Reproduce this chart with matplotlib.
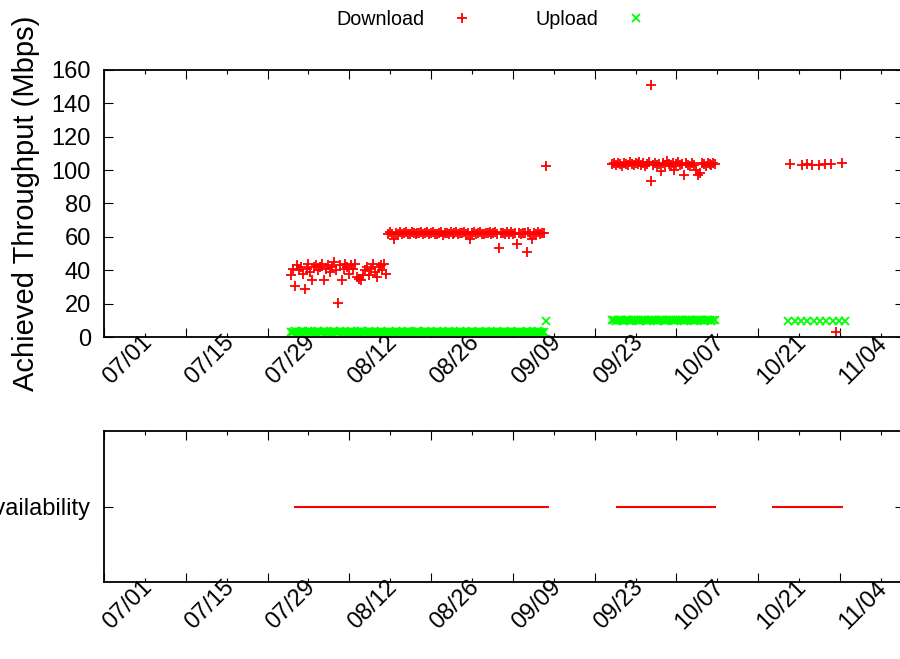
import matplotlib
matplotlib.use("Agg")
import matplotlib.pyplot as plt
import matplotlib.dates as mdates
import matplotlib.transforms as mtransforms
import pandas as pd

plt.rcParams["font.family"] = ["Liberation Sans", "DejaVu Sans"]

# speed tests run every 8 hours while the line is up
run_step = "8h"
aug_start = "2014-08-02 00:00"
mid_start = "2014-08-18 16:00"
late_start = "2014-09-26 00:00"

dl_aug = [37, 41, 30.5, 43, 40, 42, 38, 28.8, 41, 44,
          39, 34, 42, 43, 40, 42, 44, 34, 41, 43,
          39, 42, 45, 40, 20.4, 43, 34, 41, 44, 42,
          38, 43, 41, 44, 36, 35, 34, 37, 40, 42,
          37, 41, 44, 39, 36, 42, 43, 40, 44, 38]
ul_aug = [3.2, 3.0, 3.4, 3.1, 2.9, 3.3, 3.5, 3.0, 3.2, 3.4,
          3.1, 2.8, 3.3, 3.2, 3.6, 3.0, 3.1, 3.4, 2.9, 3.2,
          3.3, 3.1, 3.5, 3.0, 3.2, 3.4, 2.9, 3.1, 3.3, 3.2,
          3.0, 3.4, 3.1, 3.2, 2.9, 3.3, 3.5, 3.1, 3.0, 3.2,
          3.4, 3.1, 3.3, 2.9, 3.2, 3.0, 3.4, 3.1, 3.3, 3.2]

dl_mid = [62, 63, 61.5, 59, 62.5, 62, 63, 61.8, 62.2, 62.8,
          61.5, 62, 63.2, 62.4, 61.7, 62.6, 62.1, 63, 61.9, 62.3,
          62.7, 61.6, 62.2, 63.1, 62, 61.8, 62.5, 62.9, 61.4, 62.2,
          62.6, 62, 63, 61.7, 62.3, 62.8, 61.9, 62.4, 62.1, 63.2,
          61.6, 62.5, 59, 62.2, 62.7, 61.8, 62.4, 63, 62, 61.5,
          62.6, 62.1, 62.9, 61.7, 62.3, 62.8, 61.9, 53.1, 62.4, 62.2,
          61.6, 62.7, 62, 63.1, 61.8, 62.5, 55.7, 62.3, 61.9, 62.6,
          62.1, 50.7, 62.8, 61.7, 59, 62.4, 62, 63, 61.8, 62.5,
          62.2]
ul_mid = [3.1, 3.3, 3.0, 3.2, 3.4, 2.9, 3.1, 3.3, 3.2, 3.0,
          3.4, 3.1, 3.2, 2.9, 3.3, 3.5, 3.0, 3.2, 3.1, 3.4,
          3.0, 3.2, 3.3, 3.1, 2.9, 3.4, 3.2, 3.0, 3.3, 3.1,
          3.2, 3.5, 3.0, 3.1, 3.3, 3.2, 2.9, 3.4, 3.1, 3.2,
          3.0, 3.3, 3.1, 3.4, 3.2, 2.9, 3.1, 3.3, 3.0, 3.2,
          3.4, 3.1, 3.2, 3.0, 3.3, 3.1, 3.5, 3.2, 2.9, 3.1,
          3.3, 3.0, 3.2, 3.4, 3.1, 3.2, 3.0, 3.3, 3.1, 2.9,
          3.2, 3.4, 3.1, 3.3, 3.0, 3.2, 3.1, 3.4, 3.2, 3.0,
          3.3]

dl_late = [103.5, 104, 103, 104.5, 103.8, 102.5, 104.2, 103.6, 103.1, 104.8,
           103.4, 102.8, 104, 103.7, 105, 103.2, 104.3, 102.6, 103.9, 104.6,
           93.5, 103.3, 104.1, 102.9, 103.8, 99.6, 104.4, 103, 105.2, 103.6,
           102.4, 104, 100, 103.5, 104.7, 102.8, 103.9, 97, 104.2, 103.3,
           102.7, 104.5, 103.1, 100, 97, 98.4, 104, 103.4, 102.6, 104.3,
           103.7, 102.9, 104.1, 103.5]
ul_late = [9.9, 10.1, 9.8, 10.0, 10.2, 9.9, 9.7, 10.1, 10.0, 9.8,
           10.2, 9.9, 10.0, 10.1, 9.8, 9.9, 10.3, 10.0, 9.7, 10.1,
           9.9, 10.0, 10.2, 9.8, 10.1, 9.9, 10.0, 9.7, 10.2, 10.0,
           9.9, 10.1, 9.8, 10.0, 10.3, 9.9, 10.1, 9.8, 10.0, 9.9,
           10.2, 10.0, 9.7, 10.1, 9.9, 10.0, 10.2, 9.8, 10.1, 9.9,
           10.0, 9.8, 10.1, 10.0]

# individual runs outside the regular schedule
extra_dl_times = ["2014-09-14 17:00", "2014-10-02 14:00", "2014-10-26 10:00",
                  "2014-10-28 10:00", "2014-10-29 07:00", "2014-10-30 07:00",
                  "2014-10-31 10:00", "2014-11-01 10:00", "2014-11-02 10:00",
                  "2014-11-03 07:00", "2014-11-04 10:00"]
extra_dl = [102.5, 151, 103.5, 103.3, 103.4, 103.2, 103.3, 103.4, 103.6, 3.2, 104.4]
extra_ul_times = ["2014-09-14 17:00", "2014-10-26 04:00", "2014-10-27 06:00",
                  "2014-10-28 08:00", "2014-10-29 10:00", "2014-10-30 12:00",
                  "2014-10-31 14:00", "2014-11-01 16:00", "2014-11-02 18:00",
                  "2014-11-03 20:00", "2014-11-04 22:00"]
extra_ul = [9.6, 9.5, 9.4, 9.6, 9.5, 9.4, 9.6, 9.5, 9.4, 9.6, 9.5]

avail_start = ["2014-08-02 12:00", "2014-09-26 17:00", "2014-10-23 10:00"]
avail_end = ["2014-09-15 05:00", "2014-10-13 19:00", "2014-11-04 12:00"]

x_from, x_to = "2014-07-01", "2014-11-15"
major_dates = pd.date_range("2014-07-01", "2014-11-04", freq="14D")
minor_dates = pd.date_range("2014-07-08", "2014-11-11", freq="14D")


def run_times(start, values):
    return pd.date_range(start, periods=len(values), freq=run_step)


def style_axes(fig, ax):
    for sp in ax.spines.values():
        sp.set_linewidth(1.3)
    ax.set_xlim(pd.Timestamp(x_from), pd.Timestamp(x_to))
    ax.set_xticks(major_dates)
    ax.set_xticks(minor_dates, minor=True)
    ax.xaxis.set_major_formatter(mdates.DateFormatter("%m/%d"))
    ax.tick_params(which="both", direction="in", top=True, right=True, width=0.8)
    ax.tick_params(which="major", length=6.5)
    ax.tick_params(which="minor", length=3.2)
    ax.tick_params(axis="y", labelsize=17, pad=9.5)
    ax.tick_params(axis="x", labelsize=17, pad=34.5)
    shift = mtransforms.ScaledTranslation(7 / 100, 0, fig.dpi_scale_trans)
    for lab in ax.get_xticklabels():
        lab.set_rotation(45)
        lab.set_ha("left")
        lab.set_va("baseline")
        lab.set_rotation_mode("anchor")
        lab.set_transform(lab.get_transform() + shift)


fig = plt.figure(figsize=(9, 6.59), dpi=100)
ax1 = fig.add_axes([0.1156, 0.4886, 0.8891, 0.4052])
ax2 = fig.add_axes([0.1156, 0.1168, 0.8891, 0.2291])

dl_x = list(run_times(aug_start, dl_aug)) + list(run_times(mid_start, dl_mid)) \
    + list(run_times(late_start, dl_late)) + list(pd.to_datetime(extra_dl_times))
dl_y = dl_aug + dl_mid + dl_late + extra_dl
ul_x = list(run_times(aug_start, ul_aug)) + list(run_times(mid_start, ul_mid)) \
    + list(run_times(late_start, ul_late)) + list(pd.to_datetime(extra_ul_times))
ul_y = ul_aug + ul_mid + ul_late + extra_ul

dl_line, = ax1.plot(dl_x, dl_y, linestyle="none", marker="+", ms=6.5, mew=1.3,
                    color="#ff0000", label="Download")
ul_line, = ax1.plot(ul_x, ul_y, linestyle="none", marker="x", ms=6, mew=1.3,
                    color="#00ff00", label="Upload")

ax1.set_ylim(0, 160)
ax1.set_yticks(range(0, 161, 20))
ax1.set_ylabel("Achieved Throughput (Mbps)", fontsize=21)
ax1.yaxis.set_label_coords(-0.08, 0.5)
style_axes(fig, ax1)

starts = mdates.date2num(pd.to_datetime(avail_start))
ends = mdates.date2num(pd.to_datetime(avail_end))
ax2.hlines([1] * len(starts), starts, ends, colors="#ff0000", lw=1.5)
ax2.set_ylim(0, 2)
ax2.set_yticks([1])
ax2.set_yticklabels(["Availability"])
style_axes(fig, ax2)

fig.legend(handles=[dl_line, ul_line], loc="center", bbox_to_anchor=(0.551, 0.970),
           ncol=2, frameon=False, markerfirst=False, fontsize=14.2,
           handlelength=2, handletextpad=0.9, columnspacing=2.75)

fig.savefig("out.png", dpi=100)
